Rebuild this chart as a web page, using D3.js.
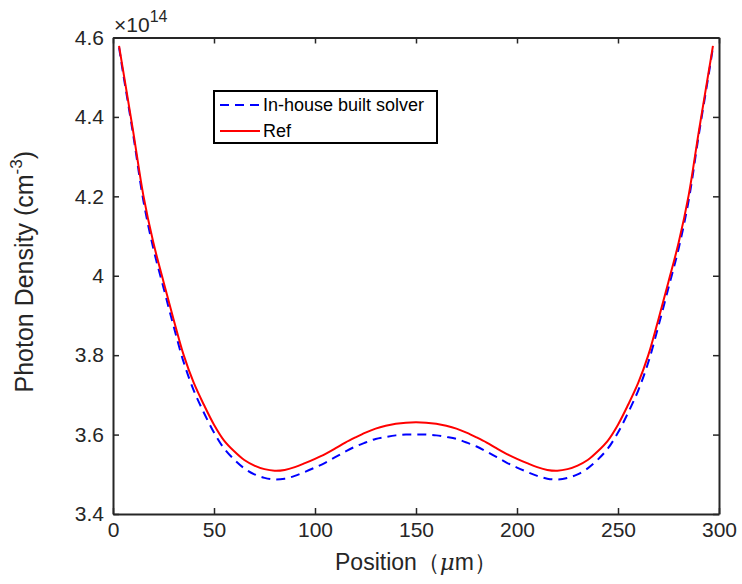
<!DOCTYPE html>
<html>
<head>
<meta charset="utf-8">
<script src="https://cdn.jsdelivr.net/npm/d3@7"></script>
<style>
  body { margin: 0; background: #fff; }
  text { font-family: "Liberation Sans", Arial, sans-serif; }
</style>
</head>
<body>
<div id="chart"></div>
<script>
// positions in micrometres
var positions = [3, 5, 10, 15, 20, 25, 30, 35, 40, 45, 50, 55, 60, 65, 70, 75, 80, 85, 90, 95, 100,
    105, 110, 115, 120, 125, 130, 135, 140, 145, 150,
    155, 160, 165, 170, 175, 180, 185, 190, 195, 200, 205, 210, 215, 220, 225, 230, 235, 240,
    245, 250, 255, 260, 265, 270, 275, 280, 285, 290, 295, 297]

// photon density, x 1e14 cm^-3
var solverValues = [4.575, 4.51, 4.355, 4.19, 4.068, 3.97, 3.873, 3.782, 3.711, 3.655, 3.605, 3.565, 3.537,
    3.515, 3.5, 3.491, 3.487, 3.489, 3.496, 3.506, 3.517, 3.529, 3.543, 3.557, 3.57, 3.58, 3.589, 3.594,
    3.598, 3.6, 3.6,
    3.6, 3.598, 3.594, 3.589, 3.58, 3.57, 3.557, 3.543, 3.529, 3.517, 3.506, 3.496, 3.489, 3.487, 3.491,
    3.5, 3.515, 3.537, 3.565, 3.605, 3.655, 3.711, 3.782, 3.873, 3.97, 4.068, 4.19, 4.355, 4.51, 4.575]

var refValues = [4.579, 4.517, 4.363, 4.203, 4.083, 3.985, 3.89, 3.80, 3.73, 3.675, 3.625, 3.585, 3.558,
    3.536, 3.522, 3.513, 3.509, 3.511, 3.518, 3.528, 3.539, 3.551, 3.565, 3.58, 3.593, 3.605, 3.615, 3.622,
    3.627, 3.63, 3.631,
    3.63, 3.627, 3.622, 3.615, 3.605, 3.593, 3.58, 3.565, 3.551, 3.539, 3.528, 3.518, 3.511, 3.509, 3.513,
    3.522, 3.536, 3.558, 3.585, 3.625, 3.675, 3.73, 3.80, 3.89, 3.985, 4.083, 4.203, 4.363, 4.517, 4.579]

var xTicks = [0, 50, 100, 150, 200, 250, 300]
var yTicks = [3.4, 3.6, 3.8, 4, 4.2, 4.4, 4.6]
var legendLabels = ["In-house built solver", "Ref"]

var outerWidth = 742,
    outerHeight = 584
var margin = { top: 37.5, right: 23, bottom: 70, left: 113 }
var innerWidth = outerWidth - margin.left - margin.right
var innerHeight = outerHeight - margin.top - margin.bottom
var axisColor = "#262626"

var svg = d3.select("#chart")
    .append("svg")
    .attr("width", outerWidth)
    .attr("height", outerHeight)

var plot = svg.append("g")
    .attr("transform", "translate(" + margin.left + "," + margin.top + ")")

var xScale = d3.scaleLinear().domain([0, 300]).range([0, innerWidth])
var yScale = d3.scaleLinear().domain([3.4, 4.6]).range([innerHeight, 0])

function styleAxis(g) {
    g.selectAll("path").attr("stroke", axisColor).attr("stroke-width", 2)
    g.selectAll("line").attr("stroke", axisColor).attr("stroke-width", 1.5)
    g.selectAll("text").attr("fill", axisColor).attr("font-size", "21px")
        .attr("font-family", "'Liberation Sans', Arial, sans-serif")
}

// bottom axis with labels, ticks inward
plot.append("g")
    .attr("transform", "translate(0," + innerHeight + ")")
    .call(d3.axisBottom(xScale).tickValues(xTicks).tickSizeInner(-6).tickSizeOuter(0).tickPadding(8)
        .tickFormat(d3.format("d")))
    .call(styleAxis)

// top axis, no labels
plot.append("g")
    .call(d3.axisTop(xScale).tickValues(xTicks).tickSizeInner(-6).tickSizeOuter(0).tickFormat(""))
    .call(styleAxis)

// left axis
plot.append("g")
    .call(d3.axisLeft(yScale).tickValues(yTicks).tickSizeInner(-6).tickSizeOuter(0).tickPadding(9)
        .tickFormat(function(d) { return d === 4 ? "4" : d3.format(".1f")(d); }))
    .call(styleAxis)

// right axis
plot.append("g")
    .attr("transform", "translate(" + innerWidth + ",0)")
    .call(d3.axisRight(yScale).tickValues(yTicks).tickSizeInner(-6).tickSizeOuter(0).tickFormat(""))
    .call(styleAxis)

var solverData = positions.map(function(p, i) { return { x: p, y: solverValues[i] } })
var refData = positions.map(function(p, i) { return { x: p, y: refValues[i] } })

var line = d3.line()
    .x(d => xScale(d.x))
    .y(d => yScale(d.y))
    .curve(d3.curveCatmullRom.alpha(0.5))

plot.append("path")
    .datum(solverData)
    .attr("d", line)
    .attr("fill", "none")
    .attr("stroke", "#0000ff")
    .attr("stroke-width", 2)
    .attr("stroke-dasharray", "9,6")

plot.append("path")
    .datum(refData)
    .attr("d", line)
    .attr("fill", "none")
    .attr("stroke", "#ff0000")
    .attr("stroke-width", 2)

// exponent label
var expo = svg.append("text")
    .attr("x", 114)
    .attr("y", 32)
    .attr("fill", axisColor)
    .attr("font-size", "21px")
expo.append("tspan").text("×10")
expo.append("tspan").attr("font-size", "16px").attr("dy", -10).text("14")

// axis titles
svg.append("text")
    .attr("x", margin.left + innerWidth / 2)
    .attr("y", 570)
    .attr("text-anchor", "middle")
    .attr("fill", axisColor)
    .attr("font-size", "23px")
    .call(function(t) {
        t.append("tspan").text("Position（")
        t.append("tspan").attr("font-style", "italic").attr("font-family", "'DejaVu Serif', serif").text("μ")
        t.append("tspan").text("m）")
    })

var yTitle = svg.append("text")
    .attr("transform", "translate(33," + (margin.top + innerHeight / 2 - 4) + ") rotate(-90)")
    .attr("text-anchor", "middle")
    .attr("fill", axisColor)
    .attr("font-size", "25px")
yTitle.append("tspan").text("Photon Density (cm")
yTitle.append("tspan").attr("font-size", "17px").attr("dy", -11).text("-3")
yTitle.append("tspan").attr("dy", 11).text(")")

// legend
var legend = svg.append("g").attr("transform", "translate(214,91)")
legend.append("rect")
    .attr("width", 223)
    .attr("height", 52)
    .attr("fill", "#fff")
    .attr("stroke", "#000")
    .attr("stroke-width", 2)

var legendStyles = [
    { color: "#0000ff", dash: "9,6" },
    { color: "#ff0000", dash: null }
]
legendLabels.forEach(function(label, i) {
    var yPos = 14 + i * 26
    legend.append("line")
        .attr("x1", 6).attr("x2", 46)
        .attr("y1", yPos).attr("y2", yPos)
        .attr("stroke", legendStyles[i].color)
        .attr("stroke-width", 2)
        .attr("stroke-dasharray", legendStyles[i].dash)
    legend.append("text")
        .attr("x", 49)
        .attr("y", yPos + 6)
        .attr("font-size", "18px")
        .attr("fill", "#000")
        .text(label)
})
</script>
</body>
</html>
